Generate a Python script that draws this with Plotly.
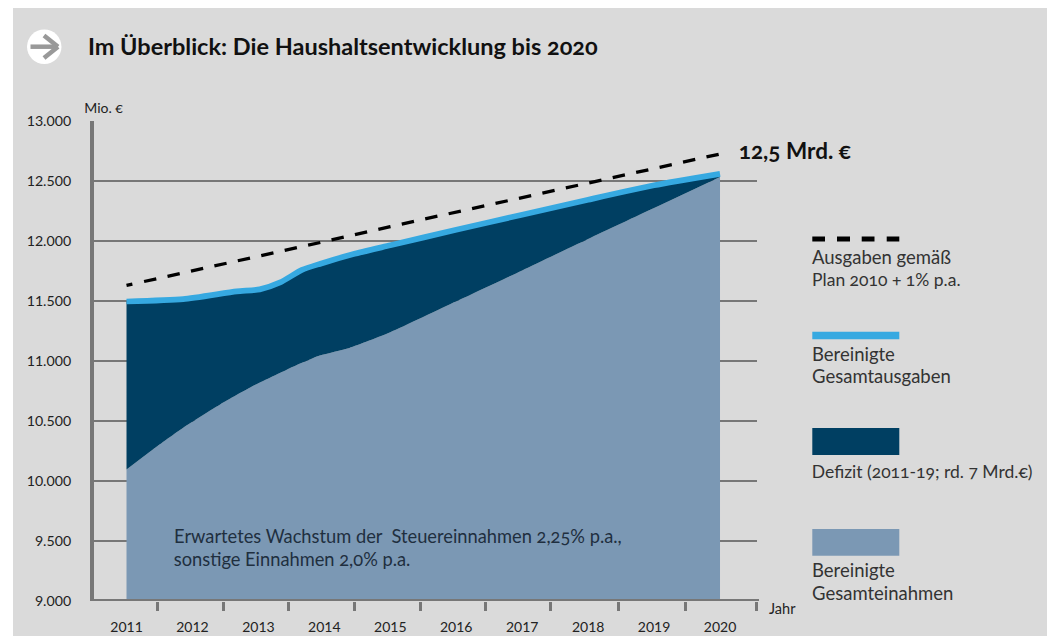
import plotly.graph_objects as go

# --- data ---
years = [2011, 2012, 2013, 2014, 2015, 2016, 2017, 2018, 2019, 2020]
y_ticks = [9000, 9500, 10000, 10500, 11000, 11500, 12000, 12500, 13000]
y_labels = ["9.000", "9.500", "10.000", "10.500", "11.000", "11.500", "12.000", "12.500", "13.000"]
boundary_ticks = [2011.47, 2012.47, 2013.45, 2014.46, 2015.46, 2016.45, 2017.43, 2018.46, 2019.48, 2020.56]

plan_values = [11630, 11750, 11875, 11995, 12120, 12240, 12360, 12480, 12605, 12725]

spending_x = [2011.0, 2011.86, 2012.67, 2013.02, 2013.33, 2013.66, 2013.93, 2014.43, 2015, 2016, 2017, 2018, 2019, 2020]
spending_v = [11496, 11515, 11580, 11597, 11655, 11759, 11809, 11889, 11964, 12094, 12219, 12344, 12464, 12559]

income_x = [2011.0, 2011.4, 2011.86, 2012.42, 2012.93, 2013.43, 2013.93, 2014.38, 2015, 2016, 2017, 2018, 2019, 2020]
income_v = [10095, 10262, 10443, 10637, 10795, 10928, 11045, 11109, 11239, 11497, 11755, 12017, 12275, 12534]

FONT = "Lato"
GREY = "#777777"
PANEL = "#dadada"
L, R, T, B = 94, 757, 121, 601
W, H = 1047, 636


def px(x):
    return (x - L) / (R - L)


def py(y):
    return 1 - (y - T) / (B - T)


fig = go.Figure()
fig.add_trace(go.Scatter(x=income_x, y=income_v, mode="lines",
                         line=dict(width=0, color="#7b98b4", shape="spline", smoothing=0.6),
                         fill="tozeroy", fillcolor="#7b98b4", showlegend=False))
fig.add_trace(go.Scatter(x=spending_x, y=spending_v, mode="lines",
                         line=dict(width=5.7, color="#36a9e1", shape="spline", smoothing=0.6),
                         fill="tonexty", fillcolor="#003f62", showlegend=False))
fig.add_trace(go.Scatter(x=years, y=plan_values, mode="lines",
                         line=dict(width=3.3, color="#000000",
                                   dash="6px,12px," + "12.5px,11.5px," * 30 + "12.5px,11.5px"),
                         showlegend=False))


def rect(x0, y0, x1, y1, color, layer="above"):
    return dict(type="rect", xref="paper", yref="paper", x0=px(x0), x1=px(x1), y0=py(y0), y1=py(y1),
                fillcolor=color, line=dict(width=0), layer=layer)


shapes = [
    rect(13, 8, W, H, PANEL, "below"),
    # axis line at the bottom
    dict(type="line", xref="paper", yref="y", x0=px(90), x1=px(759), y0=9000, y1=9000,
         line=dict(color=GREY, width=4), layer="above"),
    # arrow icon
    dict(type="circle", xref="paper", yref="paper", x0=px(27), x1=px(61.5), y0=py(29.5), y1=py(64),
         fillcolor="#ffffff", line=dict(width=0), layer="above"),
    dict(type="line", xref="paper", yref="paper", x0=px(30.5), x1=px(57), y0=py(46.7), y1=py(46.7),
         line=dict(color="#999999", width=4.5), layer="above"),
    dict(type="line", xref="paper", yref="paper", x0=px(44), x1=px(58), y0=py(35.5), y1=py(46.7),
         line=dict(color="#999999", width=4.5), layer="above"),
    dict(type="line", xref="paper", yref="paper", x0=px(44), x1=px(58), y0=py(58), y1=py(46.7),
         line=dict(color="#999999", width=4.5), layer="above"),
    # legend swatches
    rect(812.3, 236.5, 825, 241.5, "#000000"),
    rect(837, 236.5, 850, 241.5, "#000000"),
    rect(861.7, 236.5, 874.5, 241.5, "#000000"),
    rect(886.7, 236.5, 899.3, 241.5, "#000000"),
    rect(812.3, 331.7, 899.3, 339.3, "#36a9e1"),
    rect(812.3, 428, 899.3, 455, "#003f62"),
    rect(812.3, 529, 899.3, 555.7, "#7b98b4"),
]

texts = [
    ("Im Überblick: Die Haushaltsentwicklung bis 2020", 85, 45.5, 23.5, "#111111", 700),
    ("Mio. €", 83, 107, 14, "#222222", 400),
    ("12,5 Mrd. €", 736, 150, 22.5, "#111111", 700),
    ("Jahr", 768, 608, 14.5, "#222222", 400),
    ("Erwartetes Wachstum der  Steuereinnahmen 2,25% p.a.,", 172, 536, 18.3, "#1f2f3f", 400),
    ("sonstige Einnahmen 2,0% p.a.", 172, 559, 18.3, "#1f2f3f", 400),
    ("Ausgaben gemäß", 811, 257, 18.5, "#333333", 400),
    ("Plan 2010 + 1% p.a.", 809, 279, 17.5, "#333333", 400),
    ("Bereinigte", 811, 354, 18.5, "#333333", 400),
    ("Gesamtausgaben", 811, 376, 18.5, "#333333", 400),
    ("Defizit (2011-19; rd. 7 Mrd.€)", 808, 471, 17.5, "#333333", 400),
    ("Bereinigte", 811, 570, 18.5, "#333333", 400),
    ("Gesamteinahmen", 811, 593, 18.5, "#333333", 400),
]
annotations = [
    dict(text=t, x=px(x), y=py(y), xref="paper", yref="paper", xanchor="left", yanchor="middle",
         showarrow=False, borderpad=0, font=dict(family=FONT, size=s, color=c, weight=w))
    for t, x, y, s, c, w in texts
]

fig.update_layout(
    width=W, height=H, autosize=False,
    margin=dict(l=L, r=W - R, t=T, b=H - B, pad=0),
    paper_bgcolor="#ffffff", plot_bgcolor=PANEL,
    font=dict(family=FONT, size=14, color="#222222"),
    shapes=shapes, annotations=annotations,
    xaxis=dict(automargin=False, range=[2010.507, 2020.561], tickmode="array", tickvals=years,
               ticktext=[str(y) for y in years], ticks="", showgrid=False, zeroline=False,
               ticklabelstandoff=16,
               tickfont=dict(family=FONT, size=14, color="#222222"),
               minor=dict(tickmode="array", tickvals=boundary_ticks, ticks="outside", ticklen=9,
                          tickwidth=3, tickcolor=GREY, showgrid=False)),
    yaxis=dict(automargin=False, range=[9000, 13000], tickmode="array", tickvals=y_ticks, ticktext=y_labels,
               ticks="", showgrid=True, gridcolor=GREY, gridwidth=1.5, zeroline=False,
               showline=True, linecolor=GREY, linewidth=4, ticklabelstandoff=16,
               tickfont=dict(family=FONT, size=14.2, color="#222222")),
)

post = """document.body.style.margin='0';document.body.style.overflow='hidden';
var s=document.createElement('style');
s.textContent='text{font-feature-settings:"onum" 1;} .xtick text,.ytick text{font-feature-settings:"lnum" 1;}';
document.head.appendChild(s);
Plotly.redraw(document.getElementById('{plot_id}'));"""
fig.write_html("out.html", post_script=post, config={"displayModeBar": False})
